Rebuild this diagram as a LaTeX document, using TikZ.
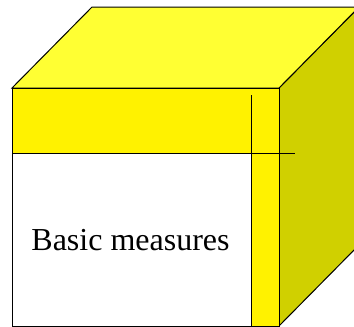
\documentclass[tikz,border=0pt]{standalone}
\usepackage{fontspec}
\setmainfont{Liberation Serif}
\definecolor{topyellow}{RGB}{255,255,51}
\definecolor{sideyellow}{RGB}{208,208,0}

\begin{document}
\begin{tikzpicture}[
  x=1pt, y=-1pt,
  edge/.style={
    draw=black, line width=1pt, line join=miter
  },
  face/.style={
    edge, fill=#1
  },
  label/.style={
    font=\fontsize{32}{32}\selectfont, text=black
  }
]

% Frame
\useasboundingbox (0,0) rectangle (354,327);
\clip (0,0) rectangle (354,327);

% Corners of the cube
\coordinate (fnw) at (12,88);
\coordinate (fne) at (279,88);
\coordinate (fse) at (279,326);
\coordinate (fsw) at (12,326);
\coordinate (bnw) at (92,7);
\coordinate (bne) at (359,7);
\coordinate (bse) at (359,245);

% Faces
\draw[face=sideyellow] (fne) -- (bne) -- (bse) -- (fse) -- cycle;
\draw[face=topyellow] (fnw) -- (bnw) -- (bne) -- (fne) -- cycle;
\draw[face=yellow] (fnw) rectangle (fse);

% Basic part of the front face
\coordinate (bm) at (251,153);
\fill[white] (fsw) rectangle (bm);
\draw[edge] (fsw) -- (fnw) -- (fne) -- (fse) -- cycle;

% Dividing lines
\coordinate (vtop) at (251,95);
\coordinate (vbot) at (251,326);
\coordinate (hleft) at (12,153);
\coordinate (hright) at (295,153);
\draw[edge] (vtop) -- (vbot);
\draw[edge] (hleft) -- (hright);

% Label
\node[label] (basic) at (130.5,240) {Basic measures};

\end{tikzpicture}
\end{document}
